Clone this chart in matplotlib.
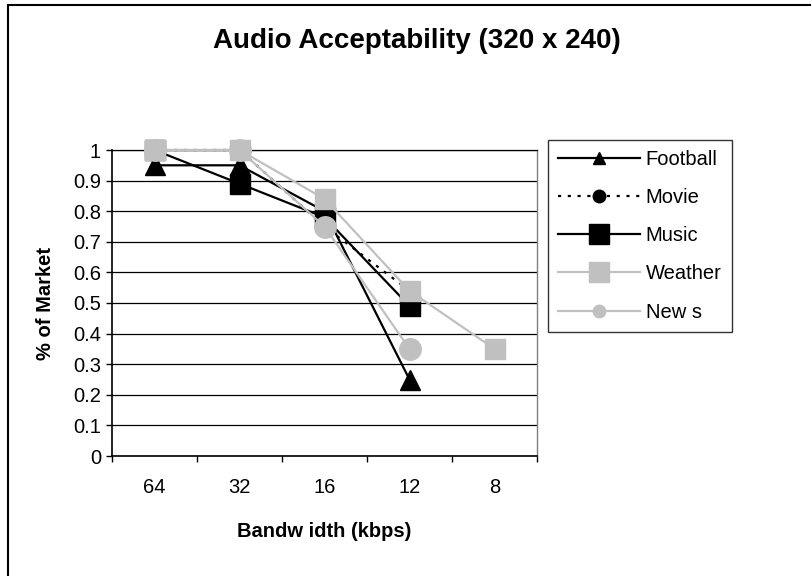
import matplotlib
matplotlib.use("Agg")
import matplotlib.pyplot as plt
from matplotlib.lines import Line2D
from matplotlib.patches import Rectangle

plt.rcParams['font.family'] = ['Liberation Sans', 'DejaVu Sans']

categories = ["64", "32", "16", "12", "8"]
football = [0.95, 0.95, 0.80, 0.25]
movie = [1.00, 1.00, 0.75, 0.54]
music = [1.00, 0.89, 0.78, 0.49]
weather = [1.00, 1.00, 0.84, 0.54, 0.35]
news = [1.00, 1.00, 0.75, 0.35]
yticks = [0, 0.1, 0.2, 0.3, 0.4, 0.5, 0.6, 0.7, 0.8, 0.9, 1]
ytick_labels = ["0", "0.1", "0.2", "0.3", "0.4", "0.5", "0.6", "0.7", "0.8", "0.9", "1"]

W, H = 812, 576
FS = 14.5
fig = plt.figure(figsize=(W / 100, H / 100), dpi=100)
ax = fig.add_axes([112 / W, 1 - 456 / H, (537 - 112) / W, (456 - 150) / H])

GRAY = '#C0C0C0'
x = list(range(len(categories)))

common = dict(lw=1.6, clip_on=False, zorder=3)
ax.plot(x[:len(football)], football, color='black', marker='^', ms=15,
        markerfacecolor='black', markeredgecolor='black', **common)
ax.plot(x[:len(movie)], movie, color='black', dashes=(1.4, 3), marker='o', ms=13,
        markerfacecolor='black', markeredgecolor='black', **common)
ax.plot(x[:len(music)], music, color='black', marker='s', ms=14,
        markerfacecolor='black', markeredgecolor='black', **common)
ax.plot(x[:len(weather)], weather, color=GRAY, marker='s', ms=14,
        markerfacecolor=GRAY, markeredgecolor=GRAY, **common)
ax.plot(x[:len(news)], news, color=GRAY, marker='o', ms=15.5,
        markerfacecolor=GRAY, markeredgecolor=GRAY, **common)

ax.set_xlim(-0.5, len(categories) - 0.5)
ax.set_ylim(0, 1)
ax.set_yticks(yticks)
ax.set_yticklabels(ytick_labels, fontsize=FS)
ax.set_xticks(x)
ax.set_xticklabels(categories, fontsize=FS)
ax.set_xticks([i - 0.5 for i in range(len(categories) + 1)], minor=True)
ax.tick_params(axis='x', which='major', length=0, pad=16)
ax.tick_params(axis='x', which='minor', length=4, width=1, direction='out', color='black')
ax.tick_params(axis='y', which='major', length=4, width=1, direction='out', pad=4)

ax.yaxis.grid(True, color='black', lw=0.9)
ax.set_axisbelow(True)
for s in ['left', 'bottom']:
    ax.spines[s].set_color('black')
    ax.spines[s].set_linewidth(1.2)
ax.spines['top'].set_color('black')
ax.spines['top'].set_linewidth(0.9)
ax.spines['right'].set_color('#808080')
ax.spines['right'].set_linewidth(1.0)

ax.set_xlabel("Bandw idth (kbps)", fontsize=FS, fontweight='bold', labelpad=18)
ax.set_ylabel("% of Market", fontsize=FS, fontweight='bold', labelpad=13)

fig.text(417 / W, 1 - 48 / H, "Audio Acceptability (320 x 240)", fontsize=20,
         fontweight='bold', ha='center', va='baseline')

handles = [
    Line2D([], [], color='black', lw=1.6, marker='^', ms=9, markerfacecolor='black', markeredgecolor='black'),
    Line2D([], [], color='black', lw=1.6, dashes=(1.4, 3), marker='o', ms=9, markerfacecolor='black', markeredgecolor='black'),
    Line2D([], [], color='black', lw=1.6, marker='s', ms=14, markerfacecolor='black', markeredgecolor='black'),
    Line2D([], [], color=GRAY, lw=1.6, marker='s', ms=14, markerfacecolor=GRAY, markeredgecolor=GRAY),
    Line2D([], [], color=GRAY, lw=1.6, marker='o', ms=9, markerfacecolor=GRAY, markeredgecolor=GRAY),
]
labels = ["Football", "Movie", "Music", "Weather", "New s"]
leg = fig.legend(handles, labels, loc='upper left', bbox_to_anchor=(548 / W, 1 - 140 / H),
                 bbox_transform=fig.transFigure, borderaxespad=0, fontsize=FS,
                 handlelength=4.05, handletextpad=0.3, labelspacing=0.95, borderpad=0.5,
                 frameon=True, fancybox=False, edgecolor='black')
leg.get_frame().set_linewidth(1.0)

fig.add_artist(Rectangle((7.5 / W, -0.05), 1.1, 1 - 5 / H + 0.05, transform=fig.transFigure,
                         fill=False, edgecolor='black', lw=1.5))

fig.savefig("out.png", dpi=100, facecolor='white')
